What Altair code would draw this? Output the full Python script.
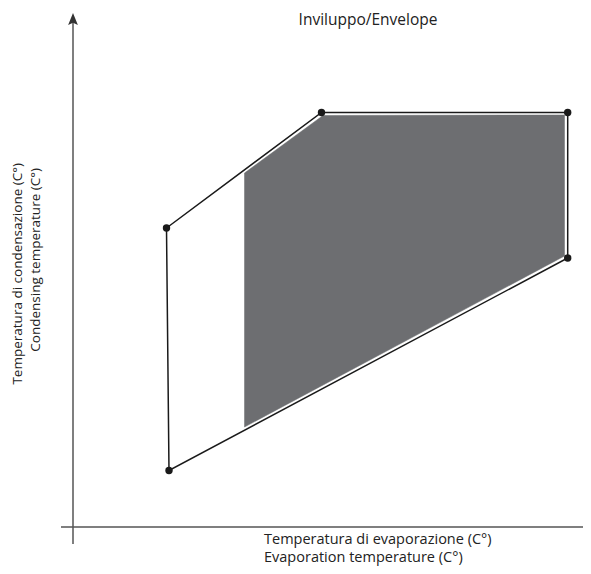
import altair as alt
import pandas as pd

# Envelope outline (arbitrary units: x from the y-axis, y from the x-axis)
envelope_x = [93.5, 248.5, 494.7, 494.7, 96.0]
envelope_y = [299.0, 414.5, 414.5, 269.0, 56.5]

# Shaded working area
area_x = [171.5, 250.0, 491.5, 491.5, 171.5]
area_y = [354.0, 411.5, 412.0, 271.0, 100.0]

title_text = "Inviluppo/Envelope"
x_label = ["Temperatura di evaporazione (C°)", "Evaporation temperature (C°)"]
y_label = ["Temperatura di condensazione (C°)", "Condensing temperature (C°)"]

GRAY = "#6d6e71"
FONT = "Open Sans"
W, H = 575, 558

xs = alt.Scale(domain=[-65, 510], nice=False, zero=False)
ys = alt.Scale(domain=[-39, 519], nice=False, zero=False)

env = pd.DataFrame({
    "x": envelope_x + [envelope_x[0]],
    "y": envelope_y + [envelope_y[0]],
    "o": list(range(len(envelope_x) + 1)),
})
pts = pd.DataFrame({"x": envelope_x, "y": envelope_y})
ar = pd.DataFrame({
    "x": area_x + [area_x[0]],
    "y": area_y + [area_y[0]],
    "o": list(range(len(area_x) + 1)),
})

X = lambda: alt.X("x:Q", scale=xs, axis=None)
Y = lambda: alt.Y("y:Q", scale=ys, axis=None)

shade = alt.Chart(ar).mark_line(fill=GRAY, stroke=GRAY, strokeWidth=0.5).encode(
    x=X(), y=Y(), order="o:Q")
outline = alt.Chart(env).mark_line(color="#1a1a1a", strokeWidth=1.5).encode(
    x=X(), y=Y(), order="o:Q")
dots = alt.Chart(pts).mark_circle(color="#1a1a1a", size=55, opacity=1).encode(
    x=X(), y=Y())

axes_df = pd.DataFrame({
    "x1": [0, -12], "x2": [0, 512],
    "y1": [-17, 0], "y2": [509, 0],
})
axes = alt.Chart(axes_df).mark_rule(color="#555555", strokeWidth=1.5).encode(
    x=alt.X("x1:Q", scale=xs, axis=None), x2="x2:Q",
    y=alt.Y("y1:Q", scale=ys, axis=None), y2="y2:Q")

arrow = alt.Chart(pd.DataFrame({"x": [0], "y": [506.5]})).mark_point(
    shape="M0,-1L-0.65,0.6L0,0.3L0.65,0.6Z", filled=True, color="#333333",
    size=225, opacity=1).encode(x=X(), y=Y())

px_x = alt.Scale(domain=[0, W], range=[0, W])
px_y = alt.Scale(domain=[0, H], range=[0, H])

title = alt.Chart(pd.DataFrame({"t": [title_text]})).mark_text(
    font=FONT, fontSize=15.5, color="#222222", align="center", baseline="middle"
).encode(text="t:N", x=alt.value(360), y=alt.value(12))

xlab = alt.Chart(pd.DataFrame({"t": x_label, "yy": [536, 554]})).mark_text(
    font=FONT, fontSize=14.5, color="#222222", align="left", baseline="alphabetic"
).encode(text="t:N", x=alt.value(256),
         y=alt.Y("yy:Q", scale=px_y, axis=None))

ylab = alt.Chart(pd.DataFrame({"t": y_label, "xx": [10, 28], "yy": [155, 160]})).mark_text(
    font=FONT, fontSize=13.5, color="#222222", align="right", baseline="middle", angle=270
).encode(text="t:N", x=alt.X("xx:Q", scale=px_x, axis=None),
         y=alt.Y("yy:Q", scale=px_y, axis=None))

chart = alt.layer(shade, outline, dots, axes, arrow, title, xlab, ylab).resolve_scale(
    x="independent", y="independent"
).properties(width=W, height=H, padding=0, autosize=alt.AutoSizeParams(type="none")
).configure_view(stroke=None)

chart.save("out.html", embed_options={"renderer": "svg", "actions": False})
